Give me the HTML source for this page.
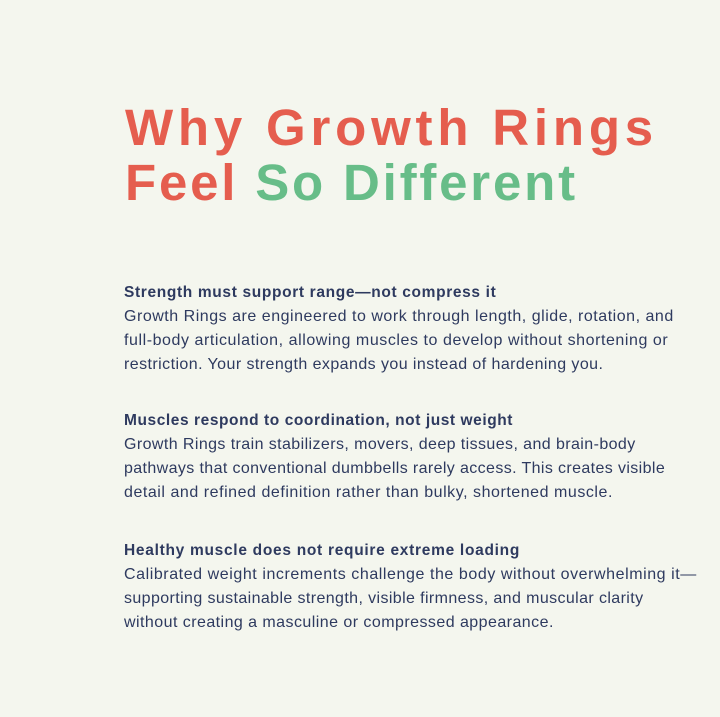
<!DOCTYPE html>
<html><head><meta charset="utf-8"><style>
html,body{margin:0;padding:0}
body{width:720px;height:717px;background:#f4f6ee;position:relative;overflow:hidden;font-family:"Liberation Sans",sans-serif}
.t{position:absolute;left:125px;font-weight:bold;font-size:51px;white-space:nowrap;line-height:1}
.r{color:#e55d4e}.g{color:#67bd88}
.l{position:absolute;left:124px;font-size:16px;letter-spacing:0.6px;color:#2e3a5f;white-space:nowrap;line-height:1}
.h{font-weight:bold;font-size:15.5px;letter-spacing:0.65px}
</style></head><body>
<div class="t r" style="top:102px;letter-spacing:4.8px">Why Growth Rings</div>
<div class="t" style="top:157px;letter-spacing:2.8px"><span class="r">Feel</span> <span class="g">So Different</span></div>

<div class="l h" style="top:285px">Strength must support range—not compress it</div>
<div class="l" style="top:309px;letter-spacing:0.52px">Growth Rings are engineered to work through length, glide, rotation, and</div>
<div class="l" style="top:333px;letter-spacing:0.56px">full-body articulation, allowing muscles to develop without shortening or</div>
<div class="l" style="top:357px;letter-spacing:0.43px">restriction. Your strength expands you instead of hardening you.</div>

<div class="l h" style="top:413px;letter-spacing:0.57px">Muscles respond to coordination, not just weight</div>
<div class="l" style="top:437px;letter-spacing:0.41px">Growth Rings train stabilizers, movers, deep tissues, and brain-body</div>
<div class="l" style="top:461px;letter-spacing:0.38px">pathways that conventional dumbbells rarely access. This creates visible</div>
<div class="l" style="top:485px;letter-spacing:0.54px">detail and refined definition rather than bulky, shortened muscle.</div>

<div class="l h" style="top:543px;letter-spacing:0.71px">Healthy muscle does not require extreme loading</div>
<div class="l" style="top:567px;letter-spacing:0.57px">Calibrated weight increments challenge the body without overwhelming it—</div>
<div class="l" style="top:591px;letter-spacing:0.39px">supporting sustainable strength, visible firmness, and muscular clarity</div>
<div class="l" style="top:615px;letter-spacing:0.45px">without creating a masculine or compressed appearance.</div>
</body></html>
